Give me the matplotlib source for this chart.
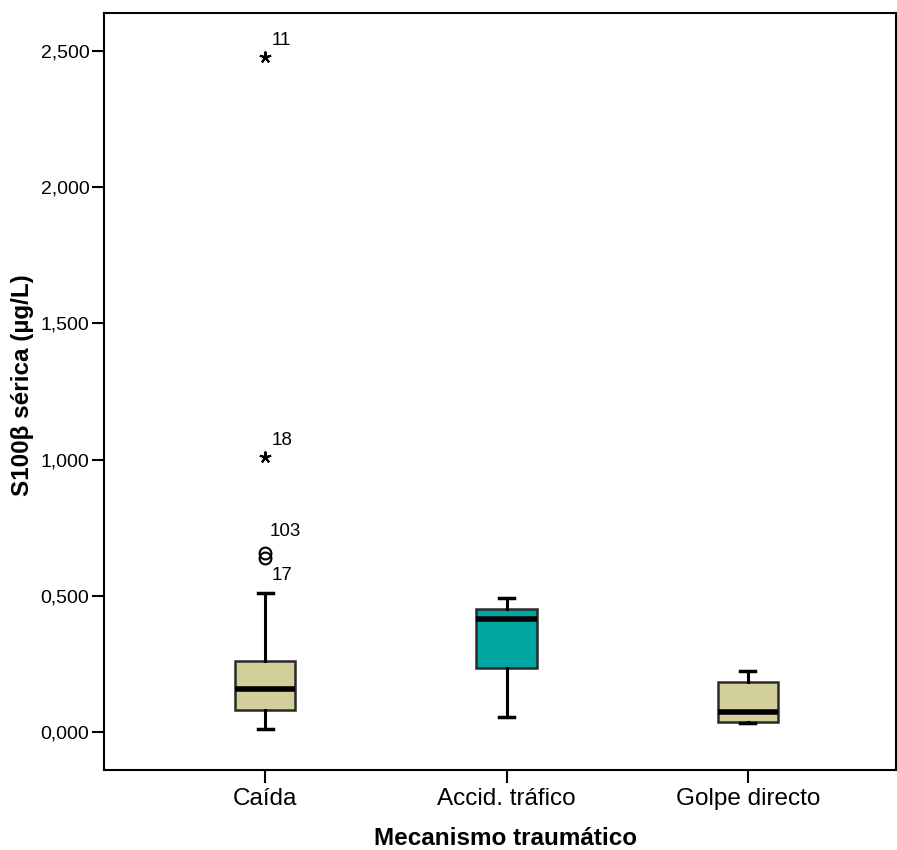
import matplotlib
matplotlib.use("Agg")
import matplotlib.pyplot as plt

plt.rcParams['font.family'] = ['Liberation Sans', 'DejaVu Sans']

# groups and box statistics
groups = ["Caída", "Accid. tráfico", "Golpe directo"]
whis_lo = [0.012, 0.055, 0.034]
q1 = [0.081, 0.234, 0.038]
med = [0.159, 0.416, 0.072]
q3 = [0.262, 0.453, 0.184]
whis_hi = [0.509, 0.493, 0.225]
colors = ["#D3CF9B", "#00A6A2", "#D3CF9B"]

# outliers (all in Caída)
circ_y = [0.658, 0.637]
circ_lab = ["103", "17"]
star_y = [2.479, 1.008]
star_lab = ["11", "18"]

fig = plt.figure(figsize=(8.97, 8.5), dpi=100)
ax = fig.add_axes([104/897, 1-770/850, (896-104)/897, (770-13)/850])

pos = [1, 2, 3]
stats = []
for i in range(3):
    stats.append(dict(med=med[i], q1=q1[i], q3=q3[i],
                      whislo=whis_lo[i], whishi=whis_hi[i], fliers=[]))

bp = ax.bxp(stats, positions=pos, widths=0.25, patch_artist=True,
            showfliers=False,
            boxprops=dict(linewidth=1.8, edgecolor="#2a2a2a"),
            medianprops=dict(color="black", linewidth=4),
            whiskerprops=dict(color="black", linewidth=2.2),
            capprops=dict(color="black", linewidth=2.5),
            capwidths=0.062)
for patch, c in zip(bp['boxes'], colors):
    patch.set_facecolor(c)

ax.plot([1]*len(circ_y), circ_y, 'o', mfc='none', mec='black', ms=8.5, mew=1.5)
ax.plot([1]*len(star_y), star_y, marker=(5, 2, 0), ls='none', color='black', ms=8.5, mew=1.5)

ax.annotate(circ_lab[0], (1, circ_y[0]), xytext=(3.5, 15), textcoords='offset points',
            fontsize=13.5, va='center')
ax.annotate(circ_lab[1], (1, circ_y[1]), xytext=(5, -12), textcoords='offset points',
            fontsize=13.5, va='center')
for y, lab in zip(star_y, star_lab):
    ax.annotate(lab, (1, y), xytext=(5, 12), textcoords='offset points',
                fontsize=13.5, va='center')

ax.set_xlim(0.333, 3.613)
ax.set_ylim(-0.14, 2.64)
ax.set_yticks([0, 0.5, 1.0, 1.5, 2.0, 2.5])
ax.set_yticklabels(["0,000", "0,500", "1,000", "1,500", "2,000", "2,500"])
ax.set_xticks(pos)
ax.set_xticklabels(groups, fontsize=17.5)
ax.tick_params(axis='y', labelsize=14, length=9, width=1.5, direction='out', pad=1.5)
ax.tick_params(axis='x', length=9, width=1.5, direction='out', pad=4)
for s in ax.spines.values():
    s.set_linewidth(1.5)

ax.set_xlabel("Mecanismo traumático", fontsize=17.5, fontweight='bold')
ax.xaxis.set_label_coords(0.507, -0.0991)
ax.xaxis.label.set_verticalalignment('baseline')
ax.set_ylabel("S100β sérica (µg/L)", fontsize=17.5, fontweight='bold')
ax.yaxis.set_label_coords(-0.1023, 0.508)
ax.yaxis.label.set_verticalalignment('center')

fig.savefig("out.png", dpi=100)
